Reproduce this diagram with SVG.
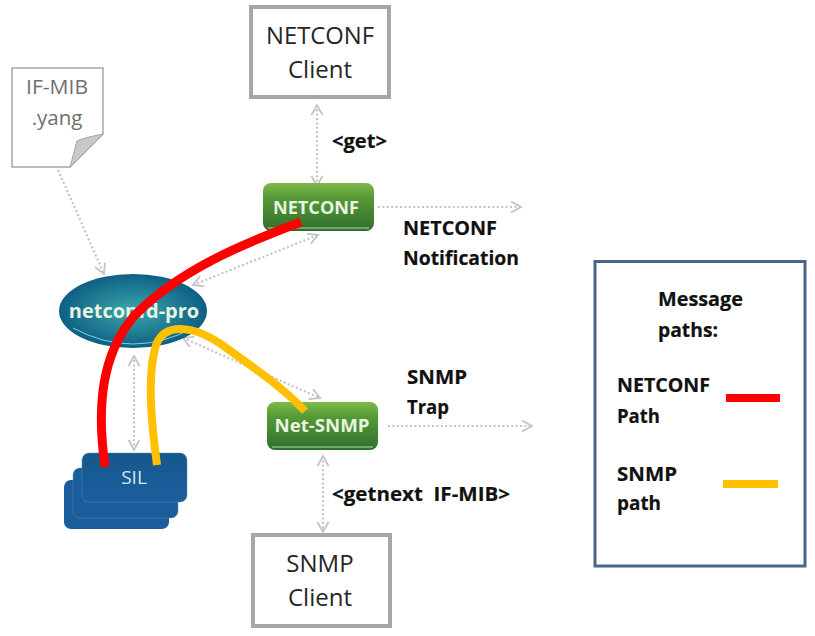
<svg xmlns="http://www.w3.org/2000/svg" width="815" height="636" viewBox="0 0 815 636">
<defs>
<linearGradient id="g" x1="0" y1="0" x2="0" y2="1"><stop offset="0" stop-color="#7fba4a"/><stop offset=".3" stop-color="#569a36"/><stop offset="1" stop-color="#2f6f2e"/></linearGradient>
<linearGradient id="b" x1="0" y1="0" x2="0" y2="1"><stop offset="0" stop-color="#14588c"/><stop offset="1" stop-color="#1b5e9e"/></linearGradient>
<radialGradient id="e"><stop offset="0" stop-color="#3aa8a8"/><stop offset="1" stop-color="#0e5f85"/></radialGradient>
<marker id="a" markerWidth="14" markerHeight="14" refX="11" refY="6" orient="auto-start-reverse" markerUnits="userSpaceOnUse"><path d="M1 0.5 L11 6 L1 11.5" fill="none" stroke="#c4c4c4" stroke-width="1.8"/></marker>
<style>
.c{fill:none;stroke:#c4c4c4;stroke-width:2.2;stroke-dasharray:2 2.4;marker-end:url(#a)}
.d{marker-start:url(#a)}
.box{fill:#fff;stroke:#a6a6a6;stroke-width:4}
.t{font-family:"Open Sans","Noto Sans",sans-serif;text-anchor:middle}
.k{font-family:"Open Sans","Noto Sans",sans-serif;font-weight:700;font-size:20px;fill:#111;stroke:#111;stroke-width:.2}
.w{font-family:"Open Sans","Noto Sans",sans-serif;font-weight:700;fill:#e8f3e0;text-anchor:middle}
.p{fill:none}
</style>
</defs>
<rect width="815" height="636" fill="#fff"/>
<g id="connectors">
<path class="c" d="M58 170 L104 274"/>
<path class="c d" d="M317 186 L317 105"/>
<path class="c" d="M378 207 L521 207"/>
<path class="c d" d="M193 285 L318 235"/>
<path class="c d" d="M183 338 L320 398"/>
<path class="c d" d="M134 450 L134 356"/>
<path class="c" d="M388 426 L532 426"/>
<path class="c d" d="M323 456 L323 532"/>
</g>
<g id="netconf-client"><rect class="box" x="251" y="7" width="138" height="90"/><text class="t" font-size="24" fill="#262626"><tspan x="320" y="44" textLength="108" lengthAdjust="spacingAndGlyphs">NETCONF</tspan><tspan x="320" y="78">Client</tspan></text></g>
<g id="snmp-client"><rect class="box" x="253" y="535" width="137" height="91"/><text class="t" font-size="24" fill="#262626"><tspan x="320" y="572">SNMP</tspan><tspan x="320" y="606">Client</tspan></text></g>
<g id="if-mib">
<path d="M12 68 H103 V134 L70 167 H12 Z" fill="#fff" stroke="#a6a6a6" stroke-width="1.5"/>
<path d="M103 134 Q82 138 77 141 L70 167 Z" fill="#c8c8c8" stroke="#a6a6a6" stroke-width="1"/>
<text class="t" font-size="20.5" fill="#707070"><tspan x="57" y="94" textLength="62" lengthAdjust="spacingAndGlyphs">IF-MIB</tspan><tspan x="57" y="125">.yang</tspan></text>
</g>
<g id="netconfd-pro"><ellipse cx="133" cy="311" rx="74" ry="37" fill="url(#e)"/><path d="M73 328 Q133 360 193 328" fill="none" stroke="#7fd0e0" stroke-width="1"/><text class="w" x="134" y="318" font-size="20" fill="#f0f8f8">netconfd-pro</text></g>
<g id="netconf"><rect x="263" y="183" width="111" height="48" rx="8" fill="url(#g)"/><path d="M268 228 H369" stroke="#b5d6a0" stroke-width="1"/><text class="w" x="316" y="214" font-size="18" textLength="86" lengthAdjust="spacingAndGlyphs">NETCONF</text></g>
<g id="net-snmp"><rect x="267" y="402" width="111" height="48" rx="8" fill="url(#g)"/><path d="M272 447 H373" stroke="#b5d6a0" stroke-width="1"/><text class="w" x="322" y="432" font-size="18" textLength="95" lengthAdjust="spacingAndGlyphs">Net-SNMP</text></g>
<g id="sil">
<rect x="64" y="480" width="105" height="49" rx="7" fill="#1b5c9a"/>
<rect x="73" y="468" width="105" height="50" rx="7" fill="#1b5c9a" stroke="#4d8cbc" stroke-width=".5"/>
<rect x="82" y="453" width="105" height="49" rx="7" fill="url(#b)" stroke="#4d8cbc" stroke-width=".5"/>
<text class="t" x="134" y="484" font-size="19" fill="#d6e6f2">SIL</text>
</g>
<g id="message-paths">
<path class="p" stroke="#ff0000" stroke-width="9" d="M301 222 C240 245 180 270 135 315 C100 355 97 410 105 467"/>
<path class="p" stroke="#ffc000" stroke-width="8" d="M157 465 C151 420 147 375 156 345 C165 322 195 325 225 347 C250 365 280 385 305 411"/>
</g>
<g id="labels">
<text class="k" x="332" y="148" textLength="55" lengthAdjust="spacingAndGlyphs">&lt;get&gt;</text>
<text class="k"><tspan x="403" y="235" textLength="94" lengthAdjust="spacingAndGlyphs">NETCONF</tspan><tspan x="403" y="265" textLength="116" lengthAdjust="spacingAndGlyphs">Notification</tspan></text>
<text class="k"><tspan x="407" y="384" textLength="60" lengthAdjust="spacingAndGlyphs">SNMP</tspan><tspan x="407" y="414" textLength="42" lengthAdjust="spacingAndGlyphs">Trap</tspan></text>
<text class="k" x="332" y="501" xml:space="preserve" textLength="178" lengthAdjust="spacingAndGlyphs">&lt;getnext  IF-MIB&gt;</text>
</g>
<g id="legend">
<rect x="595" y="261.500" width="210" height="304.500" fill="#fff" stroke="#4a6487" stroke-width="3"/>
<text class="k"><tspan x="658" y="306" textLength="85" lengthAdjust="spacingAndGlyphs">Message</tspan><tspan x="658" y="337" textLength="60" lengthAdjust="spacingAndGlyphs">paths:</tspan></text>
<text class="k"><tspan x="617" y="392" textLength="93" lengthAdjust="spacingAndGlyphs">NETCONF</tspan><tspan x="617" y="423" textLength="43" lengthAdjust="spacingAndGlyphs">Path</tspan></text>
<text class="k"><tspan x="617" y="481" textLength="60" lengthAdjust="spacingAndGlyphs">SNMP</tspan><tspan x="617" y="510" textLength="44" lengthAdjust="spacingAndGlyphs">path</tspan></text>
<path d="M726 398 H780" stroke="#ff0000" stroke-width="8"/>
<path d="M723 484 H778" stroke="#ffc000" stroke-width="8"/>
</g>
</svg>
